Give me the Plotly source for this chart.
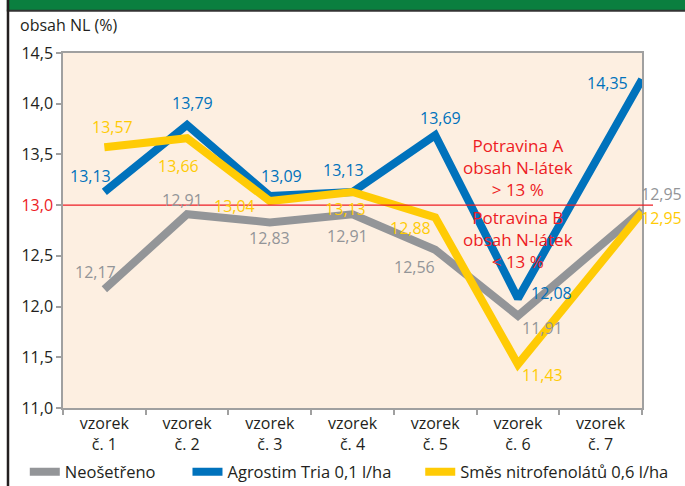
import plotly.graph_objects as go

# ---------------- data ----------------
categories = ["vzorek<br>č. 1", "vzorek<br>č. 2", "vzorek<br>č. 3", "vzorek<br>č. 4",
              "vzorek<br>č. 5", "vzorek<br>č. 6", "vzorek<br>č. 7"]
# x position of each sample (the last point sits on the right edge in the original)
x_pos = [0, 1, 2, 3, 4, 5, 6.5]

series_names = ["Neošetřeno", "Agrostim Tria 0,1 l/ha", "Směs nitrofenolátů 0,6 l/ha"]
neosetreno = [12.17, 12.91, 12.83, 12.91, 12.56, 11.91, 12.95]
agrostim = [13.13, 13.79, 13.09, 13.13, 13.69, 12.08, 14.24]
smes = [13.57, 13.66, 13.04, 13.13, 12.88, 11.43, 12.93]

neosetreno_labels = ["12,17", "12,91", "12,83", "12,91", "12,56", "11,91", "12,95"]
agrostim_labels = ["13,13", "13,79", "13,09", "13,13", "13,69", "12,08", "14,35"]
smes_labels = ["13,57", "13,66", "13,04", "13,13", "12,88", "11,43", "12,95"]

y_ticks = [11.0, 11.5, 12.0, 12.5, 13.0, 13.5, 14.0, 14.5]
threshold = 13.0

# ---------------- style ----------------
FONT = "Open Sans"
GRAY = "#939598"
BLUE = "#0072bc"
YELLOW = "#ffcb05"
RED = "#ed1c24"
TEXT = "#231f20"
AXIS = "#a0a0a0"

# label offsets (px) relative to each point
off_gray = [(-9, 17), (-5, 14), (0, -16), (-5, -22), (-21, -17), (25, -12), (19, 16)]
off_blue = [(-14, 16), (5, 22), (12, 20), (-9, 22), (5, 17), (34, 5), (-35, -4)]
off_yel = [(8, 20), (-9, -28), (-35, -5), (-7, -17), (-25, -11), (25, -11), (19, -6)]

fig = go.Figure()

series = [
    (neosetreno, neosetreno_labels, GRAY, off_gray, "legend"),
    (agrostim, agrostim_labels, BLUE, off_blue, "legend2"),
    (smes, smes_labels, YELLOW, off_yel, "legend3"),
]

for (vals, labels, color, offs, lg), name in zip(series, series_names):
    fig.add_trace(go.Scatter(
        x=x_pos, y=vals, mode="lines", name=name,
        line=dict(color=color, width=8),
        legend=lg, hoverinfo="skip"))

annotations = []
for (vals, labels, color, offs, lg) in series:
    for xv, yv, t, (dx, dy) in zip(x_pos, vals, labels, offs):
        annotations.append(dict(
            x=xv, y=yv, xref="x", yref="y", text=t, showarrow=False,
            xshift=dx, yshift=dy, font=dict(family=FONT, size=16, color=color)))

# threshold notes
annotations.append(dict(x=5, y=threshold, xref="x", yref="y",
                        text="Potravina A<br>obsah N-látek<br>> 13 %",
                        showarrow=False, yshift=38,
                        font=dict(family=FONT, size=17, color=RED)))
annotations.append(dict(x=5, y=threshold, xref="x", yref="y",
                        text="Potravina B<br>obsah N-látek<br>< 13 %",
                        showarrow=False, yshift=-34,
                        font=dict(family=FONT, size=17, color=RED)))

# axis title
annotations.append(dict(x=-0.078, y=1.078, xref="paper", yref="paper",
                        xanchor="left", yanchor="middle", text="obsah NL (%)",
                        showarrow=False, font=dict(family=FONT, size=16, color=TEXT)))

ytext = []
for v in y_ticks:
    s = f"{v:.1f}".replace(".", ",")
    if v == threshold:
        s = f"<span style='color:{RED}'>{s}</span>"
    ytext.append(s)

shapes = [
    # threshold line
    dict(type="line", xref="paper", yref="y", x0=0, x1=1.019, y0=threshold, y1=threshold,
         line=dict(color=RED, width=1.2), layer="above"),
    # green header
    dict(type="rect", xref="paper", yref="paper", x0=-0.097, x1=1.1, y0=1.119, y1=1.2,
         fillcolor="#0a7f3f", line=dict(width=0), layer="above"),
    dict(type="line", xref="paper", yref="paper", x0=-0.097, x1=1.1, y0=1.119, y1=1.119,
         line=dict(color="#333333", width=2)),
    # left dark border
    dict(type="line", xref="paper", yref="paper", x0=-0.095, x1=-0.095, y0=-0.3, y1=1.2,
         line=dict(color=TEXT, width=2.5)),
]

legend_common = dict(orientation="h", yanchor="middle", yref="container", y=0.029,
                     xanchor="left", bgcolor="rgba(0,0,0,0)",
                     font=dict(family=FONT, size=16.5, color=TEXT))

fig.update_layout(
    width=685, height=486,
    margin=dict(l=63, r=43, t=53, b=78, autoexpand=False),
    paper_bgcolor="white", plot_bgcolor="#fdefe1",
    font=dict(family=FONT, size=16, color=TEXT),
    separators=", ",
    showlegend=True,
    legend=dict(x=-0.066, **legend_common),
    legend2=dict(x=0.215, **legend_common),
    legend3=dict(x=0.617, **legend_common),
    annotations=annotations,
    shapes=shapes,
    xaxis=dict(range=[-0.5, 6.5], tickvals=list(range(7)), ticktext=categories,
               ticks="", showgrid=False, zeroline=False, showline=True,
               linecolor=AXIS, linewidth=1.5, mirror=True,
               tickfont=dict(family=FONT, size=16, color=TEXT),
               minor=dict(tickvals=[i - 0.5 for i in range(8)], ticks="outside",
                          ticklen=5, tickcolor=AXIS, tickwidth=1.5, showgrid=False)),
    yaxis=dict(range=[11, 14.5], tickvals=y_ticks, ticktext=ytext, ticks="outside",
               ticklen=5, tickcolor=AXIS, tickwidth=1.5, showgrid=False, zeroline=False,
               showline=True, linecolor=AXIS, linewidth=1.5, mirror=True,
               tickfont=dict(family=FONT, size=16, color=TEXT)),
)

fig.write_html("out.html", config={"displayModeBar": False},
               post_script="document.body.style.margin='0px';"
                           "document.body.style.overflow='hidden';")
